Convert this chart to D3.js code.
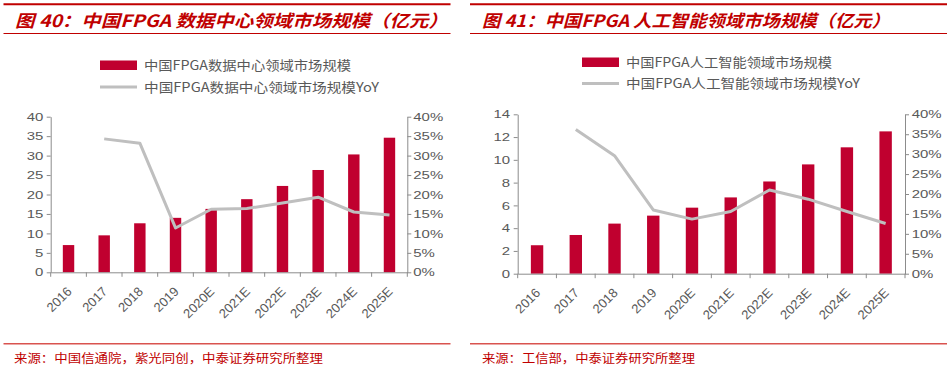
<!DOCTYPE html>
<html><head><meta charset="utf-8">
<script src="https://cdn.jsdelivr.net/npm/d3@7"></script>
<style>
html,body{margin:0;padding:0;background:#fff;}
svg{display:block;}
</style></head>
<body>
<svg id="chart" width="950" height="370"></svg>
<script>
// ---------- data ----------
const categories = ["2016","2017","2018","2019","2020E","2021E","2022E","2023E","2024E","2025E"];
const dcValues = [7.0, 9.5, 12.6, 14.0, 16.3, 18.8, 22.2, 26.3, 30.3, 34.6];
const dcYoY    = [null, 34.3, 33.2, 11.4, 16.2, 16.4, 17.8, 19.3, 15.5, 14.7];
const aiValues = [2.5, 3.4, 4.4, 5.1, 5.8, 6.7, 8.1, 9.6, 11.1, 12.5];
const aiYoY    = [null, 36.2, 29.6, 16.0, 13.7, 15.6, 21.0, 18.7, 15.6, 12.6];
const dcTicks  = [0,5,10,15,20,25,30,35,40];
const aiTicks  = [0,2,4,6,8,10,12,14];
const pctTicks = [0,5,10,15,20,25,30,35,40];

const dcTitle = "图 40：中国FPGA 数据中心领域市场规模（亿元）";
const aiTitle = "图 41：中国FPGA 人工智能领域市场规模（亿元）";
const dcLegend = ["中国FPGA数据中心领域市场规模", "中国FPGA数据中心领域市场规模YoY"];
const aiLegend = ["中国FPGA人工智能领域市场规模", "中国FPGA人工智能领域市场规模YoY"];
const dcSource = "来源：中国信通院，紫光同创，中泰证券研究所整理";
const aiSource = "来源：工信部，中泰证券研究所整理";

// ---------- styles ----------
const RED = "#C00000", BAR = "#C0002F", GREY_LINE = "#BFBFBF", AXIS = "#8C8C8C", TXT = "#595959";
const CJK = "'Noto Sans CJK SC','Noto Sans',sans-serif";
const LAT = "'Liberation Sans',Arial,sans-serif";
const SX = 1.3; // horizontal stretch of tick labels

const svg = d3.select("#chart");

function panel(cfg){
  const g = svg.append("g");
  // header lines
  g.append("line").attr("x1",cfg.px0).attr("x2",cfg.px1).attr("y1",4.3).attr("y2",4.3)
    .attr("stroke",RED).attr("stroke-width",2);
  g.append("line").attr("x1",cfg.px0).attr("x2",cfg.px1).attr("y1",33.5).attr("y2",33.5)
    .attr("stroke",RED).attr("stroke-width",1.2);
  g.append("text").attr("x",cfg.titleX).attr("y",27)
    .attr("font-family",CJK).attr("font-size",17).attr("font-weight","bold").attr("font-style","italic")
    .attr("fill",RED).attr("textLength",cfg.titleLen).attr("lengthAdjust","spacingAndGlyphs")
    .text(cfg.title);
  // footer
  g.append("line").attr("x1",cfg.px0).attr("x2",cfg.px1).attr("y1",343.8).attr("y2",343.8)
    .attr("stroke","#D9534F").attr("stroke-width",1.6);
  g.append("text").attr("x",cfg.srcX).attr("y",362.5)
    .attr("font-family",CJK).attr("font-size",12).attr("fill",RED)
    .attr("textLength",cfg.srcLen).attr("lengthAdjust","spacingAndGlyphs")
    .text(cfg.source);

  // legend
  g.append("rect").attr("x",cfg.legX).attr("y",cfg.legY1-4.5).attr("width",37).attr("height",9.5).attr("fill",BAR);
  g.append("line").attr("x1",cfg.legX).attr("x2",cfg.legX+37).attr("y1",cfg.legY2).attr("y2",cfg.legY2)
    .attr("stroke",GREY_LINE).attr("stroke-width",3);
  g.append("text").attr("x",cfg.legTX).attr("y",cfg.legY1).attr("dy","0.36em")
    .attr("font-family",CJK).attr("font-size",13).attr("fill",TXT)
    .attr("textLength",cfg.legLen1).attr("lengthAdjust","spacingAndGlyphs").text(cfg.legend[0]);
  g.append("text").attr("x",cfg.legTX).attr("y",cfg.legY2).attr("dy","0.36em")
    .attr("font-family",CJK).attr("font-size",13).attr("fill",TXT)
    .attr("textLength",cfg.legLen2).attr("lengthAdjust","spacingAndGlyphs").text(cfg.legend[1]);

  // scales
  const x = d3.scaleBand().domain(categories).range([cfg.x0,cfg.x1]).paddingInner(0.68).paddingOuter(0.34);
  const y = d3.scaleLinear().domain([0,d3.max(cfg.ticks)]).range([cfg.yBot,cfg.yTop]);
  const yp = d3.scaleLinear().domain([0,40]).range([cfg.yBot,cfg.yTop]);

  // bars
  g.append("g").selectAll("rect").data(cfg.values).join("rect")
    .attr("x",(d,i)=>x(categories[i])).attr("width",x.bandwidth())
    .attr("y",d=>y(d)).attr("height",d=>y(0)-y(d)).attr("fill",BAR);

  // yoy line
  const line = d3.line().defined(d=>d!=null)
    .x((d,i)=>x(categories[i])+x.bandwidth()/2).y(d=>yp(d));
  g.append("path").datum(cfg.yoy).attr("d",line).attr("fill","none")
    .attr("stroke",GREY_LINE).attr("stroke-width",3).attr("stroke-linejoin","round");

  // left axis
  const la = g.append("g").attr("transform",`translate(${cfg.x0},0)`)
    .call(d3.axisLeft(y).tickValues(cfg.ticks).tickSize(4).tickSizeOuter(0));
  la.selectAll("text").attr("x",cfg.lOff/SX).attr("transform",`scale(${SX},1)`);
  // right axis
  const ra = g.append("g").attr("transform",`translate(${cfg.x1},0)`)
    .call(d3.axisRight(yp).tickValues(pctTicks).tickFormat(d=>d+"%").tickSize(4).tickSizeOuter(0));
  ra.selectAll("text").attr("x",cfg.rOff/SX).attr("transform",`scale(${SX},1)`);
  [la,ra].forEach(a=>{
    a.selectAll("path,line").attr("stroke",AXIS);
    a.selectAll("text").attr("fill",TXT).attr("font-family",LAT).attr("font-size",11.5);
  });

  // x axis
  const xa = g.append("g").attr("transform",`translate(0,${cfg.yBot})`)
    .call(d3.axisBottom(x).tickSize(0).tickSizeOuter(0).tickFormat(""));
  xa.select("path").attr("stroke",AXIS);
  const step = x.step();
  const bounds = d3.range(categories.length+1).map(i=>cfg.x0+i*step);
  g.append("g").selectAll("line").data(bounds).join("line")
    .attr("x1",d=>d).attr("x2",d=>d).attr("y1",cfg.yBot).attr("y2",cfg.yBot+4.5).attr("stroke",AXIS);
  g.append("g").selectAll("text").data(categories).join("text")
    .attr("transform",d=>`translate(${x(d)+x.bandwidth()/2+4},${cfg.yBot+20}) rotate(-45)`)
    .attr("text-anchor","end").attr("font-family",LAT).attr("font-size",13).attr("fill",TXT)
    .text(d=>d);
}

panel({px0:3.5,px1:450.5,title:dcTitle,titleX:15,titleLen:433,source:dcSource,srcX:14,srcLen:309,
  legend:dcLegend,legX:100,legTX:144,legY1:65,legY2:87,legLen1:207,legLen2:235,
  x0:50.7,x1:407.3,yTop:116.7,yBot:272.3,ticks:dcTicks,values:dcValues,yoy:dcYoY,lOff:-7.4,rOff:6});
panel({px0:470,px1:947,title:aiTitle,titleX:482,titleLen:408,source:aiSource,srcX:482,srcLen:213,
  legend:aiLegend,legX:582,legTX:626,legY1:62,legY2:83.5,legLen1:206,legLen2:234,
  x0:517.7,x1:905,yTop:114.3,yBot:273.7,ticks:aiTicks,values:aiValues,yoy:aiYoY,lOff:-7.7,rOff:6.7});
</script>
</body></html>
